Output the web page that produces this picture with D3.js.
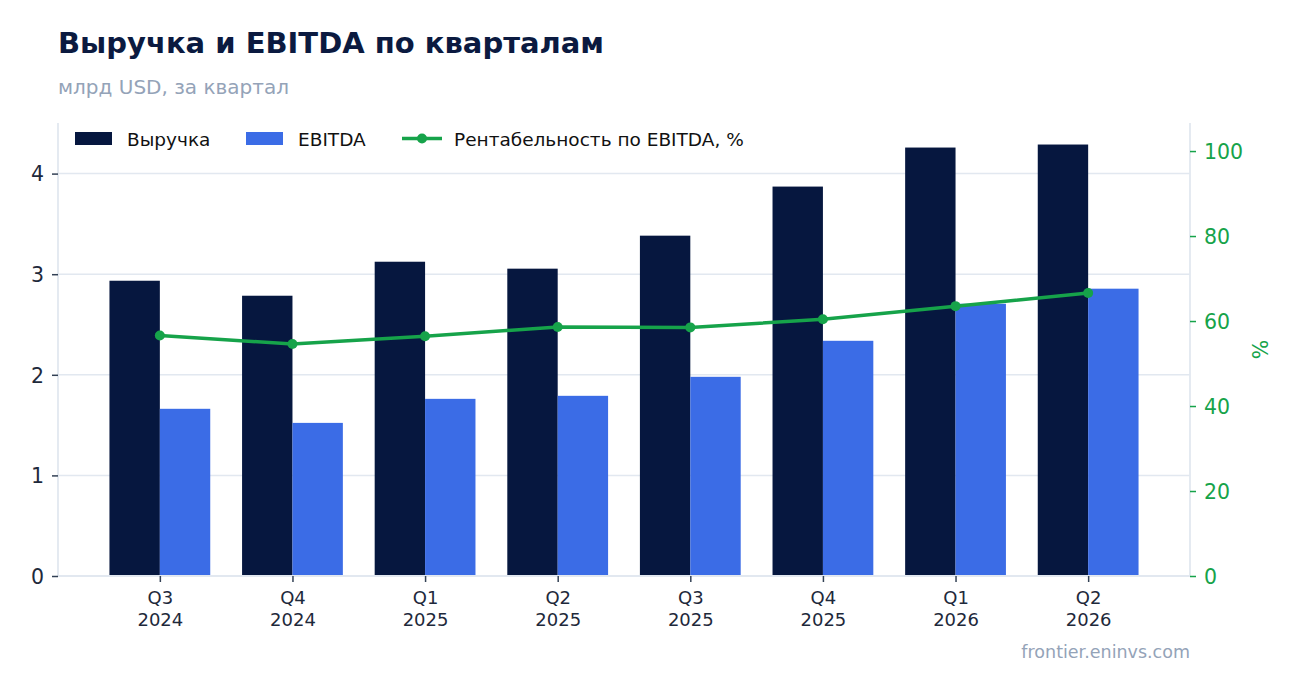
<!DOCTYPE html>
<html>
<head>
<meta charset="utf-8">
<script src="https://cdn.jsdelivr.net/npm/d3@7"></script>
<style>
  body { margin: 0; background: #fff; }
  svg { font-family: "DejaVu Sans", sans-serif; }
</style>
</head>
<body>
<div class="chart"></div>
<script>
// quarters, two-line labels
var quarters = ["Q3 2024", "Q4 2024", "Q1 2025", "Q2 2025", "Q3 2025", "Q4 2025", "Q1 2026", "Q2 2026"];
var revenue = [2.935, 2.786, 3.124, 3.055, 3.383, 3.871, 4.259, 4.289];
var ebitda = [1.662, 1.522, 1.761, 1.791, 1.980, 2.338, 2.706, 2.856];
var margin = [56.6, 54.6, 56.4, 58.6, 58.5, 60.4, 63.5, 66.6];
var leftTicks = [0, 1, 2, 3, 4];
var rightTicks = [0, 20, 40, 60, 80, 100];

var width = 1302, height = 693;
var m = { left: 58, right: 1190, top: 123, bottom: 576 };
var barW = 0.38;

var svg = d3.select(".chart").append("svg")
  .attr("width", width)
  .attr("height", height);

var x = d3.scaleLinear().domain([-0.768, quarters.length - 1 + 0.768]).range([m.left, m.right]);
var y = d3.scaleLinear().domain([0, 4.503]).range([m.bottom, m.top]);
var y2 = d3.scaleLinear().domain([0, 106.6]).range([m.bottom, m.top]);

// gridlines
svg.append("g").selectAll("line")
  .data(leftTicks.filter(function (d) { return d > 0; }))
  .enter().append("line")
  .attr("x1", m.left).attr("x2", m.right)
  .attr("y1", function (d) { return y(d); })
  .attr("y2", function (d) { return y(d); })
  .attr("stroke", "#e2e8f0")
  .attr("stroke-width", 1.5);

// bars
svg.append("g").selectAll("rect")
  .data(revenue)
  .enter().append("rect")
  .attr("x", function (d, i) { return x(i - barW); })
  .attr("y", function (d) { return y(d); })
  .attr("width", function (d, i) { return x(i) - x(i - barW); })
  .attr("height", function (d) { return y(0) - y(d); })
  .attr("fill", "#06173f");

svg.append("g").selectAll("rect")
  .data(ebitda)
  .enter().append("rect")
  .attr("x", function (d, i) { return x(i); })
  .attr("y", function (d) { return y(d); })
  .attr("width", function (d, i) { return x(i + barW) - x(i); })
  .attr("height", function (d) { return y(0) - y(d); })
  .attr("fill", "#3b6ce6");

// spines
var spine = "#e2e8f0";
svg.append("line").attr("x1", m.left).attr("x2", m.left).attr("y1", m.top).attr("y2", m.bottom)
  .attr("stroke", spine).attr("stroke-width", 1.8);
svg.append("line").attr("x1", m.right).attr("x2", m.right).attr("y1", m.top).attr("y2", m.bottom)
  .attr("stroke", spine).attr("stroke-width", 1.8);
svg.append("line").attr("x1", m.left).attr("x2", m.right).attr("y1", m.bottom).attr("y2", m.bottom)
  .attr("stroke", spine).attr("stroke-width", 1.8);

// left axis
var gl = svg.append("g").attr("transform", "translate(" + m.left + ",0)")
  .call(d3.axisLeft(y).tickValues(leftTicks).tickSize(6).tickPadding(8).tickFormat(d3.format("d")));
gl.select(".domain").remove();
gl.selectAll(".tick line").attr("stroke", "#334155").attr("stroke-width", 1.5);
gl.selectAll(".tick text").attr("fill", "#1e293b").style("font-size", "20.5px")
  .style("font-family", "DejaVu Sans").attr("dy", "0.36em");

// right axis
var gr = svg.append("g").attr("transform", "translate(" + m.right + ",0)")
  .call(d3.axisRight(y2).tickValues(rightTicks).tickSize(6).tickPadding(8).tickFormat(d3.format("d")));
gr.select(".domain").remove();
gr.selectAll(".tick line").attr("stroke", "#16a34a").attr("stroke-width", 1.5);
gr.selectAll(".tick text").attr("fill", "#16a34a").style("font-size", "20.5px")
  .style("font-family", "DejaVu Sans").attr("dy", "0.36em");

svg.append("text")
  .attr("transform", "translate(1261," + ((m.top + m.bottom) / 2) + ") rotate(-90)")
  .attr("text-anchor", "middle")
  .attr("dy", "0.35em")
  .attr("fill", "#16a34a")
  .style("font-size", "20.5px")
  .text("%");

// x axis
var gx = svg.append("g").attr("transform", "translate(0," + m.bottom + ")")
  .call(d3.axisBottom(x).tickValues(d3.range(quarters.length)).tickSize(6).tickPadding(5)
    .tickFormat(function (i) { return quarters[i]; }));
gx.select(".domain").remove();
gx.selectAll(".tick line").attr("stroke", "#334155").attr("stroke-width", 1.5);
gx.selectAll(".tick text").each(function (i) {
  var t = d3.select(this);
  var parts = quarters[i].split(" ");
  t.text(null).attr("fill", "#1e293b").style("font-size", "18px").style("font-family", "DejaVu Sans");
  t.append("tspan").attr("x", 0).attr("dy", "0.95em").text(parts[0]);
  t.append("tspan").attr("x", 0).attr("dy", "1.2em").text(parts[1]);
});

// margin line
var line = d3.line()
  .x(function (d, i) { return x(i); })
  .y(function (d) { return y2(d); });

svg.append("path")
  .datum(margin)
  .attr("d", line)
  .attr("fill", "none")
  .attr("stroke", "#16a34a")
  .attr("stroke-width", 3.5);

svg.append("g").selectAll("circle")
  .data(margin)
  .enter().append("circle")
  .attr("cx", function (d, i) { return x(i); })
  .attr("cy", function (d) { return y2(d); })
  .attr("r", 5)
  .attr("fill", "#16a34a");

// legend
var lg = svg.append("g").style("font-size", "18.5px");
lg.append("rect").attr("x", 75).attr("y", 132).attr("width", 37).attr("height", 13).attr("fill", "#06173f");
lg.append("text").attr("x", 127).attr("y", 145.5).attr("fill", "#111").text("Выручка");
lg.append("rect").attr("x", 246).attr("y", 132).attr("width", 37).attr("height", 13).attr("fill", "#3b6ce6");
lg.append("text").attr("x", 298).attr("y", 145.5).attr("fill", "#111").text("EBITDA");
lg.append("line").attr("x1", 402).attr("x2", 442).attr("y1", 138.5).attr("y2", 138.5)
  .attr("stroke", "#16a34a").attr("stroke-width", 3.5);
lg.append("circle").attr("cx", 422).attr("cy", 138.5).attr("r", 5).attr("fill", "#16a34a");
lg.append("text").attr("x", 454).attr("y", 145.5).attr("fill", "#111").text("Рентабельность по EBITDA, %");

// titles
svg.append("text").attr("x", 58).attr("y", 53)
  .attr("fill", "#0b1a40").style("font-size", "29px").style("font-weight", "bold")
  .text("Выручка и EBITDA по кварталам");
svg.append("text").attr("x", 58).attr("y", 94)
  .attr("fill", "#94a3b8").style("font-size", "20px")
  .text("млрд USD, за квартал");

svg.append("text").attr("x", 1190).attr("y", 658)
  .attr("text-anchor", "end")
  .attr("fill", "#94a3b8").style("font-size", "17.5px")
  .text("frontier.eninvs.com");
</script>
</body>
</html>
